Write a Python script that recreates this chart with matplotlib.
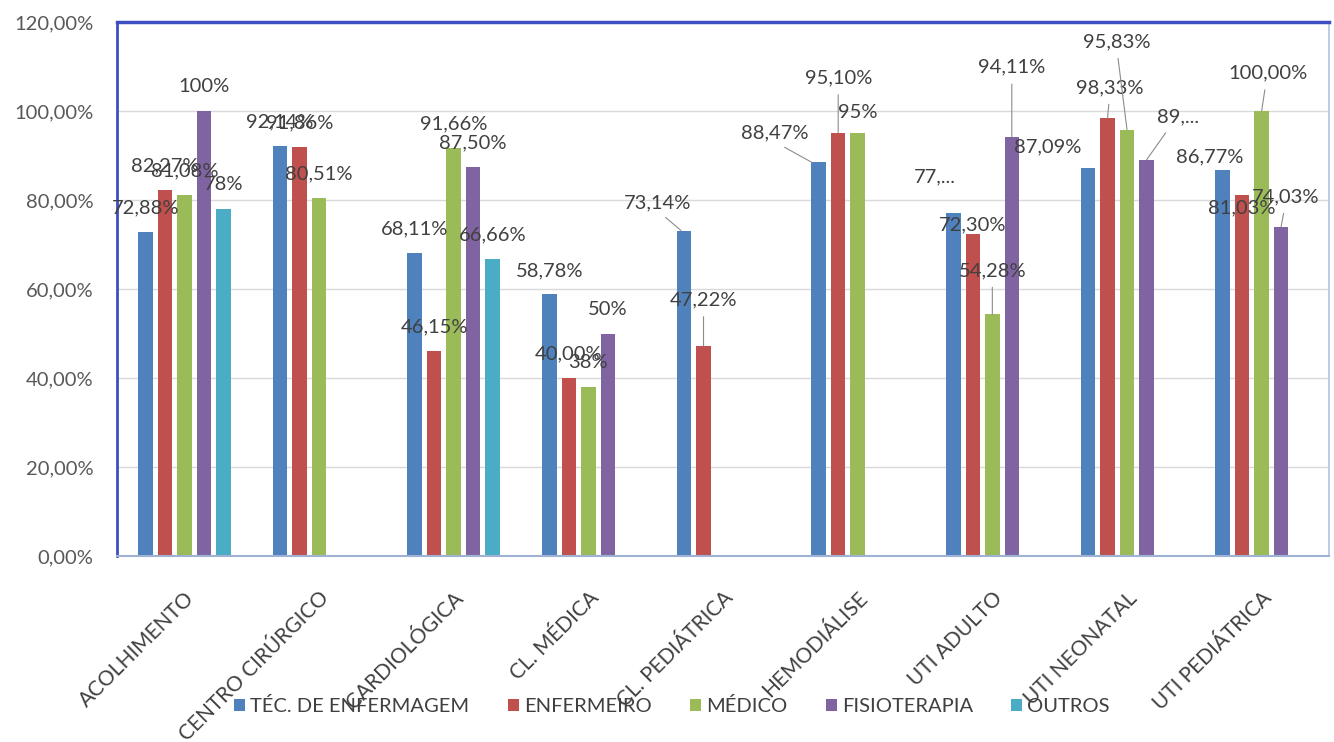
import matplotlib
matplotlib.use("Agg")
import matplotlib.pyplot as plt
import numpy as np

nan = np.nan

categories = ["ACOLHIMENTO", "CENTRO CIRÚRGICO", "CARDIOLÓGICA", "CL. MÉDICA",
              "CL. PEDIÁTRICA", "HEMODIÁLISE", "UTI ADULTO", "UTI NEONATAL",
              "UTI PEDIÁTRICA"]
series_names = ["TÉC. DE ENFERMAGEM", "ENFERMEIRO", "MÉDICO", "FISIOTERAPIA", "OUTROS"]

tec = [72.88, 92.14, 68.11, 58.78, 73.14, 88.47, 77.0, 87.09, 86.77]
enf = [82.27, 91.86, 46.15, 40.00, 47.22, 95.10, 72.30, 98.33, 81.03]
med = [81.08, 80.51, 91.66, 38.0, nan, 95.0, 54.28, 95.83, 100.0]
fis = [100.0, nan, 87.50, 50.0, nan, nan, 94.11, 89.0, 74.03]
out = [78.0, nan, 66.66, nan, nan, nan, nan, nan, nan]

tec_labels = ["72,88%", "92,14%", "68,11%", "58,78%", "73,14%", "88,47%", "77,...", "87,09%", "86,77%"]
enf_labels = ["82,27%", "91,86%", "46,15%", "40,00%", "47,22%", "95,10%", "72,30%", "98,33%", "81,03%"]
med_labels = ["81,08%", "80,51%", "91,66%", "38%", None, "95%", "54,28%", "95,83%", "100,00%"]
fis_labels = ["100%", None, "87,50%", "50%", None, None, "94,11%", "89,...", "74,03%"]
out_labels = ["78%", None, "66,66%", None, None, None, None, None, None]

yticks = [0, 20, 40, 60, 80, 100, 120]

series = [tec, enf, med, fis, out]
labels = [tec_labels, enf_labels, med_labels, fis_labels, out_labels]
colors = ["#4F81BD", "#C0504D", "#9BBB59", "#8064A2", "#4BACC6"]

# label placement, pixels from bar top: (dx, dy up, leader relpos, leader end dx)
DEFAULT = (0, 24, None, 0)
label_pos = {
    (0, 4): (-23, 28, (0.5, 0), -3),
    (1, 4): (0, 46, (0.5, 0), 0),
    (0, 5): (-37, 29, (0.5, 0), -7),
    (1, 5): (0, 55, (0.5, 0), 0),
    (2, 5): (0, 21, None, 0),
    (0, 6): (-19, 36, None, 0),
    (1, 6): (0, 9, None, 0),
    (2, 6): (0, 44, (0.5, 0), 0),
    (3, 6): (0, 70, (0.5, 0), 0),
    (0, 7): (-40, 22, None, 0),
    (1, 7): (2, 31, (0.5, 0), 0),
    (2, 7): (-10, 88, (0.5, 0), 0),
    (3, 7): (32, 43, (0.32, 0), 0),
    (0, 8): (-13, 13, None, 0),
    (1, 8): (0, -12, None, 0),
    (2, 8): (6, 38, (0.48, 0), 0),
    (3, 8): (4, 30, (0.5, 0), 0),
}

plt.rcParams["font.family"] = ["Lato", "DejaVu Sans"]
W, H, DPI = 1334, 742, 100
fig = plt.figure(figsize=(W / DPI, H / DPI), dpi=DPI)
L, R, T, B = 117, 1329, 22, 556
ax = fig.add_axes([L / W, 1 - B / H, (R - L) / W, (B - T) / H])

x = np.arange(len(categories))
slot = 0.1446
bw = 0.1075
px2pt = 72 / DPI
cat_px = (R - L) / len(categories)

for i, (vals, name, col) in enumerate(zip(series, series_names, colors)):
    xs = x + (i - 2) * slot
    ax.bar(xs, vals, width=bw, color=col, label=name, zorder=2)
    for j, v in enumerate(vals):
        lab = labels[i][j]
        if lab is None or np.isnan(v):
            continue
        dx, dy, relpos, ex = label_pos.get((i, j), DEFAULT)
        kw = {}
        if relpos is not None:
            kw["arrowprops"] = dict(arrowstyle="-", color="#8c8c8c", lw=0.8,
                                    relpos=relpos, shrinkA=4, shrinkB=0)
        ax.annotate(lab, xy=(xs[j] + ex / cat_px, v), xytext=(dx * px2pt, dy * px2pt),
                    textcoords="offset points", ha="center", va="center",
                    fontsize=14.5, color="#404040", zorder=3, **kw)

ax.set_xlim(-0.5, len(categories) - 0.5)
ax.set_ylim(0, 120)
ax.set_yticks(yticks)
ax.set_yticklabels([f"{v:.2f}%".replace(".", ",") for v in yticks])
ax.set_xticks(x)
ax.set_xticklabels(categories, rotation=45, ha="right", rotation_mode="anchor")
ax.tick_params(axis="y", length=0, pad=17, labelsize=14.5, labelcolor="#595959")
ax.tick_params(axis="x", length=0, pad=23, labelsize=15, labelcolor="#404040")
ax.yaxis.grid(True, color="#d9d9d9", lw=1)
ax.set_axisbelow(True)

ax.spines["left"].set_color("#3d4fc0")
ax.spines["left"].set_linewidth(2)
ax.spines["top"].set_color("#3d4fc0")
ax.spines["top"].set_linewidth(2.5)
ax.spines["right"].set_color("#b4c2dc")
ax.spines["right"].set_linewidth(1.2)
ax.spines["bottom"].set_color("#9fb2d4")
ax.spines["bottom"].set_linewidth(1.5)

fig.legend(loc="center", bbox_to_anchor=(672 / W, 1 - 706 / H), ncol=5, frameon=False,
           handlelength=0.55, handleheight=0.55, handletextpad=0.25,
           columnspacing=1.9, prop={"size": 14.5}, labelcolor="#404040")

fig.savefig("out.png", dpi=DPI, facecolor="white")
